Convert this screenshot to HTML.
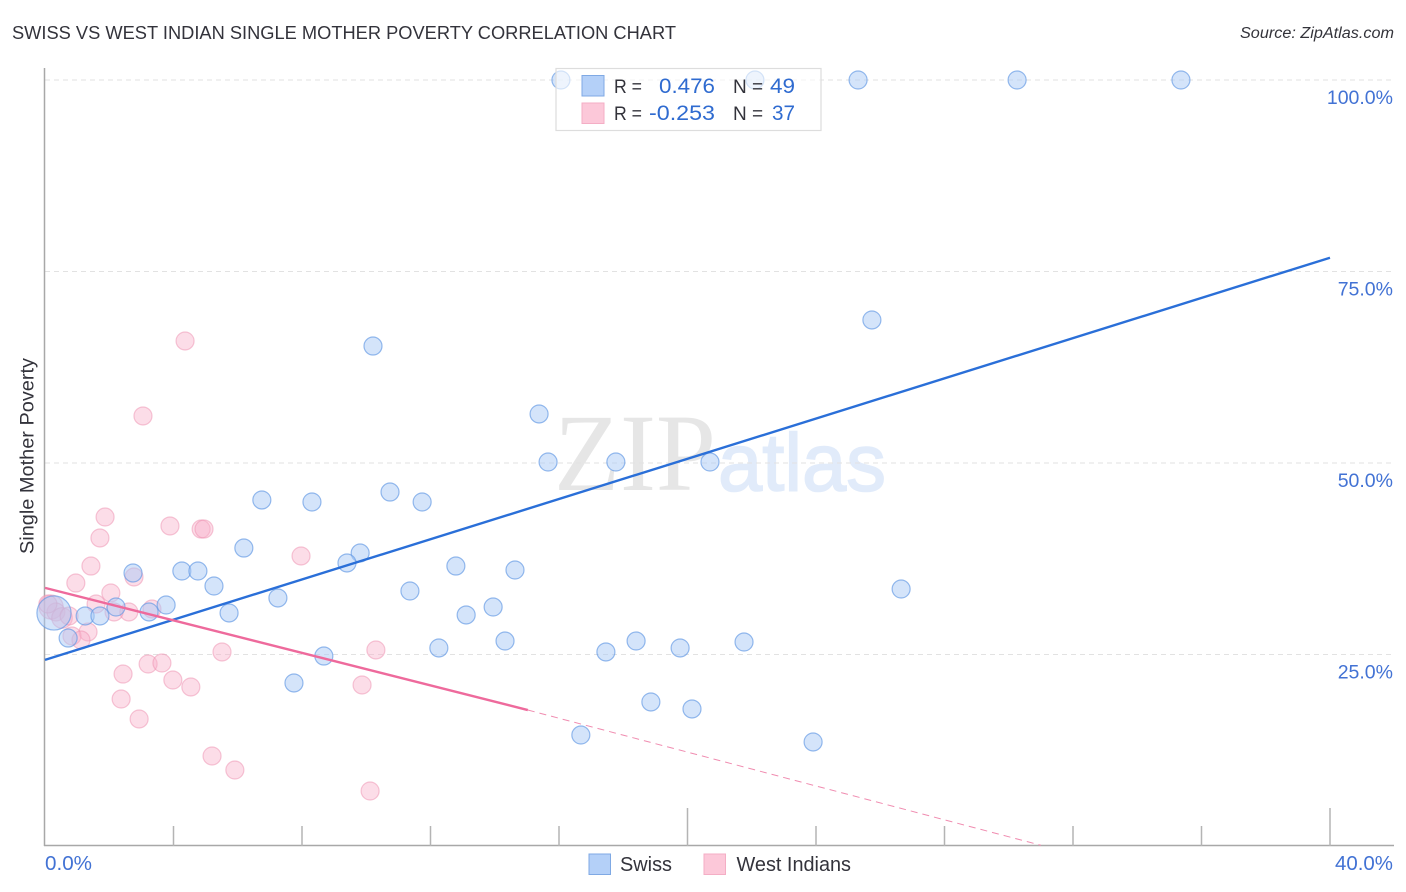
<!DOCTYPE html>
<html lang="en">
<head>
<meta charset="utf-8">
<title>Swiss vs West Indian Single Mother Poverty Correlation Chart</title>
<style>
  html, body { margin: 0; padding: 0; background: #fff; }
  body { width: 1406px; height: 892px; overflow: hidden; }
  svg { display: block; font-family: "Liberation Sans", sans-serif; }
</style>
</head>
<body>
<svg id="chart" width="1406" height="892" viewBox="0 0 1406 892" xmlns="http://www.w3.org/2000/svg">
  <rect x="0" y="0" width="1406" height="892" fill="#ffffff"/>
  <text x="12" y="39" font-size="18.5" fill="#33333b" textLength="664" lengthAdjust="spacingAndGlyphs">SWISS VS WEST INDIAN SINGLE MOTHER POVERTY CORRELATION CHART</text>
  <text x="1394" y="38" font-size="15.5" font-style="italic" fill="#33333a" text-anchor="end" textLength="154" lengthAdjust="spacingAndGlyphs">Source: ZipAtlas.com</text>
  <text transform="translate(33.5,456) rotate(-90)" font-size="19" fill="#33333b" text-anchor="middle" textLength="196" lengthAdjust="spacingAndGlyphs">Single Mother Poverty</text>

  <g>
    <text x="554" y="490" style="font-family:'Liberation Serif',serif" font-size="110" fill="#e6e6e6" textLength="162" lengthAdjust="spacingAndGlyphs">ZIP</text>
    <text x="718" y="490.5" style="font-family:'Liberation Sans',Arial,sans-serif" font-size="82" fill="#e1ebfa" stroke="#e1ebfa" stroke-width="1.6" textLength="168" lengthAdjust="spacingAndGlyphs">atlas</text>
  </g>
  <g id="grid"></g>
  <g id="axes"></g>
  <g id="points-west"></g>
  <g id="points-swiss"></g>
  <g id="trends"></g>

  <g>
    <rect x="556" y="68.5" width="265" height="62" fill="#ffffff" fill-opacity="0.6" stroke="#dddddd" stroke-width="1.2"/>
    <rect x="582" y="75.5" width="22" height="20.5" fill="#b4d0f8" stroke="#7fa9e4" stroke-width="1"/>
    <rect x="582" y="103" width="22" height="20.5" fill="#fcc8d9" stroke="#f4aec5" stroke-width="1"/>
    <text x="614" y="93" font-size="19" fill="#33333b" textLength="28" lengthAdjust="spacingAndGlyphs">R =</text>
    <text x="715" y="93" font-size="21" fill="#2f6bd0" text-anchor="end" textLength="56" lengthAdjust="spacingAndGlyphs">0.476</text>
    <text x="733" y="93" font-size="19" fill="#33333b">N =</text>
    <text x="795" y="93" font-size="21" fill="#2f6bd0" text-anchor="end" textLength="25" lengthAdjust="spacingAndGlyphs">49</text>
    <text x="614" y="120" font-size="19" fill="#33333b" textLength="28" lengthAdjust="spacingAndGlyphs">R =</text>
    <text x="715" y="120" font-size="21" fill="#2f6bd0" text-anchor="end" textLength="66" lengthAdjust="spacingAndGlyphs">-0.253</text>
    <text x="733" y="120" font-size="19" fill="#33333b">N =</text>
    <text x="795" y="120" font-size="21" fill="#2f6bd0" text-anchor="end" textLength="23" lengthAdjust="spacingAndGlyphs">37</text>
  </g>

  <g>
    <g>
      <rect x="589" y="854" width="21.5" height="20.5" fill="#b4d0f8" stroke="#7fa9e4" stroke-width="1"/>
      <text x="620" y="871" font-size="20" fill="#33333b" textLength="52" lengthAdjust="spacingAndGlyphs">Swiss</text>
    </g>
    <g>
      <rect x="704" y="854" width="21.5" height="20.5" fill="#fcc8d9" stroke="#f4aec5" stroke-width="1"/>
      <text x="736.5" y="871" font-size="20" fill="#33333b" textLength="114.5" lengthAdjust="spacingAndGlyphs">West Indians</text>
    </g>
  </g>
</svg>

<script>
const swissX = [16.06,22.10,25.31,30.26,35.36,25.74,10.21,15.38,15.66,17.77,20.70,6.75,8.31,10.74,11.74,6.19,9.81,9.40,12.79,14.63,2.74,4.26,4.76,5.26,11.36,26.65,7.25,3.77,2.21,3.24,5.73,13.11,13.95,1.25,1.71,0.28,0.72,14.32,12.26,8.68,17.46,18.40,19.77,21.76,7.75,18.86,20.14,16.68,23.91];
const swissY = [100,100,100,100,100,68.67,65.27,56.40,50.13,50.13,50.13,45.17,44.91,46.21,44.91,38.90,38.25,36.95,36.55,36.03,35.64,35.90,35.90,33.94,33.29,33.55,32.38,31.46,31.20,30.55,30.42,30.16,31.20,30.03,30.03,30.42,27.15,26.76,25.85,24.80,25.33,26.76,25.85,26.63,21.28,18.80,17.89,14.49,13.58];
const swissWeight = [1,1,1,1,1,1,1,1,1,1,1,1,1,1,1,1,1,1,1,1,1,1,1,1,1,1,1,1,1,1,1,1,1,1,1,3.6,1,1,1,1,1,1,1,1,1,1,1,1,1];
const westX = [4.36,3.05,1.87,3.89,4.86,4.95,1.71,7.97,1.43,2.77,0.96,2.05,1.59,3.33,2.61,2.15,0.19,0.34,0.09,0.53,0.75,1.34,0.84,1.12,5.51,10.30,3.21,3.64,2.43,3.98,4.54,9.87,2.37,2.93,5.20,5.91,10.12];
const westY = [65.93,56.14,42.95,41.78,41.38,41.38,40.21,37.86,36.55,35.12,34.33,33.03,31.59,30.94,30.55,30.55,31.20,30.55,31.59,29.77,30.03,27.94,27.42,26.89,25.33,25.59,23.76,23.89,22.45,21.67,20.76,21.02,19.19,16.58,11.75,9.92,7.18];
const westWeight = [1,1,1,1,1,1,1,1,1,1,1,1,1,1,1,1,1.8,1,1,1.3,1,1,1,1,1,1,1,1,1,1,1,1,1,1,1,1,1];
const swissTrendX = [0,40];
const swissTrendY = [24.3,76.8];
const westTrendSolidX = [0,15.03];
const westTrendSolidY = [33.7,17.75];
const westTrendDashX = [15.03,31];
const westTrendDashY = [17.75,0.1];
const yTicks = [25,50,75,100];
const yTickLabels = ["25.0%","50.0%","75.0%","100.0%"];
const xTicks = [4,8,12,16,20,24,28,32,36,40];
const xMajorTicks = [20,40];
const xEdgeLabels = ["0.0%","40.0%"];

const NS = "http://www.w3.org/2000/svg";
function xScale(v) { return 45 + v * 32.125; }
function yScale(v) { return 846 - v * 7.66; }
function radius(w) { return 9 * Math.sqrt(w); }
function make(tag, attrs, parent) {
  const el = document.createElementNS(NS, tag);
  for (const k in attrs) el.setAttribute(k, attrs[k]);
  parent.appendChild(el);
  return el;
}

const grid = document.getElementById("grid");
const axes = document.getElementById("axes");
const pointsWest = document.getElementById("points-west");
const pointsSwiss = document.getElementById("points-swiss");
const trends = document.getElementById("trends");

yTicks.forEach(function (t, i) {
  const g = make("line", {x1: 45, x2: 1393, y1: yScale(t), y2: yScale(t), stroke: "#e2e2e2", "stroke-width": 1, "stroke-dasharray": "5 4"}, grid);
  
  
  const lab = make("text", {x: 1393, y: yScale(t) + 24, "font-size": 19.5, fill: "#4272d4", "text-anchor": "end"}, axes);
  lab.textContent = yTickLabels[i];
  
  
});

const yAxis = make("line", {x1: 44.5, x2: 44.5, y1: 68, y2: 846, stroke: "#a8a8a8", "stroke-width": 1.5}, axes);


const xAxis = make("line", {x1: 44, x2: 1394, y1: 845.5, y2: 845.5, stroke: "#a8a8a8", "stroke-width": 1.5}, axes);



xTicks.forEach(function (t) {
  const top = xMajorTicks.indexOf(t) >= 0 ? 808 : 826;
  const tick = make("line", {x1: xScale(t), x2: xScale(t), y1: top, y2: 846, stroke: "#b4b4b4", "stroke-width": 1.5}, axes);
  
  
});

const xLabelLeft = make("text", {x: 45, y: 870, "font-size": 20, fill: "#4272d4", textLength: 47, lengthAdjust: "spacingAndGlyphs"}, axes);
xLabelLeft.textContent = xEdgeLabels[0];


const xLabelRight = make("text", {x: 1393, y: 870, "font-size": 20, fill: "#4272d4", "text-anchor": "end", textLength: 58, lengthAdjust: "spacingAndGlyphs"}, axes);
xLabelRight.textContent = xEdgeLabels[1];



westX.forEach(function (v, i) {
  const c = make("circle", {cx: xScale(v), cy: yScale(westY[i]), r: radius(westWeight[i]), fill: "#f8aec8", "fill-opacity": 0.42, stroke: "#ee8fb0", "stroke-opacity": 0.5, "stroke-width": 1.2}, pointsWest);
  
  
});

swissX.forEach(function (v, i) {
  const c = make("circle", {cx: xScale(v), cy: yScale(swissY[i]), r: radius(swissWeight[i]), fill: "#a9c9f6", "fill-opacity": 0.5, stroke: "#5f97e4", "stroke-opacity": 0.65, "stroke-width": 1.2}, pointsSwiss);
  
  
});

const swissLine = make("line", {x1: xScale(swissTrendX[0]), y1: yScale(swissTrendY[0]), x2: xScale(swissTrendX[1]), y2: yScale(swissTrendY[1]), stroke: "#2a6fd8", "stroke-width": 2.4}, trends);


const westLine = make("line", {x1: xScale(westTrendSolidX[0]), y1: yScale(westTrendSolidY[0]), x2: xScale(westTrendSolidX[1]), y2: yScale(westTrendSolidY[1]), stroke: "#ee6a9c", "stroke-width": 2.4}, trends);


const westDash = make("line", {x1: xScale(westTrendDashX[0]), y1: yScale(westTrendDashY[0]), x2: xScale(westTrendDashX[1]), y2: yScale(westTrendDashY[1]), stroke: "#f08cb0", "stroke-width": 1, "stroke-dasharray": "7 5"}, trends);


</script>
</body>
</html>
